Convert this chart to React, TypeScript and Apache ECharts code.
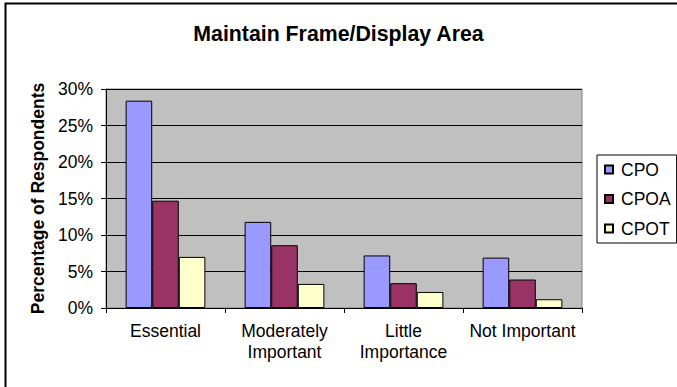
import React, { useEffect, useRef } from "react";
import * as echarts from "echarts";

const categories = ["Essential", "Moderately\nImportant", "Little\nImportance", "Not Important"];
const cpo = [28.4, 11.8, 7.2, 6.9];
const cpoa = [14.7, 8.6, 3.4, 3.9];
const cpot = [7.0, 3.3, 2.2, 1.2];
const yTicks = { min: 0, max: 30, interval: 5 };

const FONT = "'Liberation Sans', Arial, sans-serif";

export default function App() {
  const ref = useRef<HTMLDivElement>(null);
  useEffect(() => {
    if (!ref.current) return;
    const chart = echarts.init(ref.current, undefined, { renderer: "svg" });
    const barStyle = (color: string) => ({ color, borderColor: "#000", borderWidth: 1 });
    chart.setOption({
      animation: false,
      backgroundColor: "#fff",
      textStyle: { fontFamily: FONT, color: "#000" },
      title: {
        text: "Maintain Frame/Display Area",
        left: "center",
        top: 18,
        textStyle: { fontFamily: FONT, fontSize: 21.3, fontWeight: "bold", color: "#000" },
      },
      graphic: [
        {
          type: "rect",
          shape: { x: 5.5, y: 3.5, width: 720, height: 420 },
          style: { fill: "none", stroke: "#000", lineWidth: 2 },
          silent: true,
          z: 100,
        },
      ],
      legend: {
        orient: "vertical",
        left: 597,
        top: 155,
        padding: [5.5, 6, 5.5, 7],
        itemGap: 11.5,
        itemWidth: 8,
        itemHeight: 8,
        borderColor: "#000",
        borderWidth: 1,
        textStyle: { fontFamily: FONT, fontSize: 17.5, lineHeight: 18, color: "#000", padding: [0, 0, 0, 3] },
        icon: "rect",
        data: ["CPO", "CPOA", "CPOT"],
      },
      grid: {
        left: 106,
        right: 95,
        top: 89,
        bottom: 79,
        show: true,
        backgroundColor: "#C0C0C0",
        borderColor: "#808080",
        borderWidth: 1,
      },
      xAxis: {
        type: "category",
        data: categories,
        axisLine: { lineStyle: { color: "#000", width: 1 } },
        axisTick: { show: true, length: 5, lineStyle: { color: "#000" } },
        axisLabel: {
          fontFamily: FONT,
          fontSize: 17.5,
          color: "#000",
          margin: 12,
          lineHeight: 21,
          interval: 0,
        },
      },
      yAxis: {
        type: "value",
        min: yTicks.min,
        max: yTicks.max,
        interval: yTicks.interval,
        name: "Percentage of Respondents",
        nameLocation: "middle",
        nameGap: 59,
        nameTextStyle: { fontFamily: FONT, fontSize: 17.5, fontWeight: "bold", color: "#000" },
        axisLine: { show: true, lineStyle: { color: "#000", width: 1 } },
        axisTick: { show: true, length: 5, lineStyle: { color: "#000" } },
        axisLabel: {
          fontFamily: FONT,
          fontSize: 17.5,
          color: "#000",
          margin: 13,
          formatter: (v: number) => v + "%",
        },
        splitLine: { show: true, lineStyle: { color: "#000", width: 1 } },
      },
      series: [
        { name: "CPO", type: "bar", data: cpo, itemStyle: barStyle("#9999FF"), barGap: "0%", barCategoryGap: "33%" },
        { name: "CPOA", type: "bar", data: cpoa, itemStyle: barStyle("#993366"), barGap: "0%", barCategoryGap: "33%" },
        { name: "CPOT", type: "bar", data: cpot, itemStyle: barStyle("#FFFFCC"), barGap: "0%", barCategoryGap: "33%" },
      ],
    });
    return () => chart.dispose();
  }, []);
  return (
    <div
      ref={ref}
      style={{ position: "fixed", left: 0, top: 0, width: 677, height: 387 }}
    />
  );
}
